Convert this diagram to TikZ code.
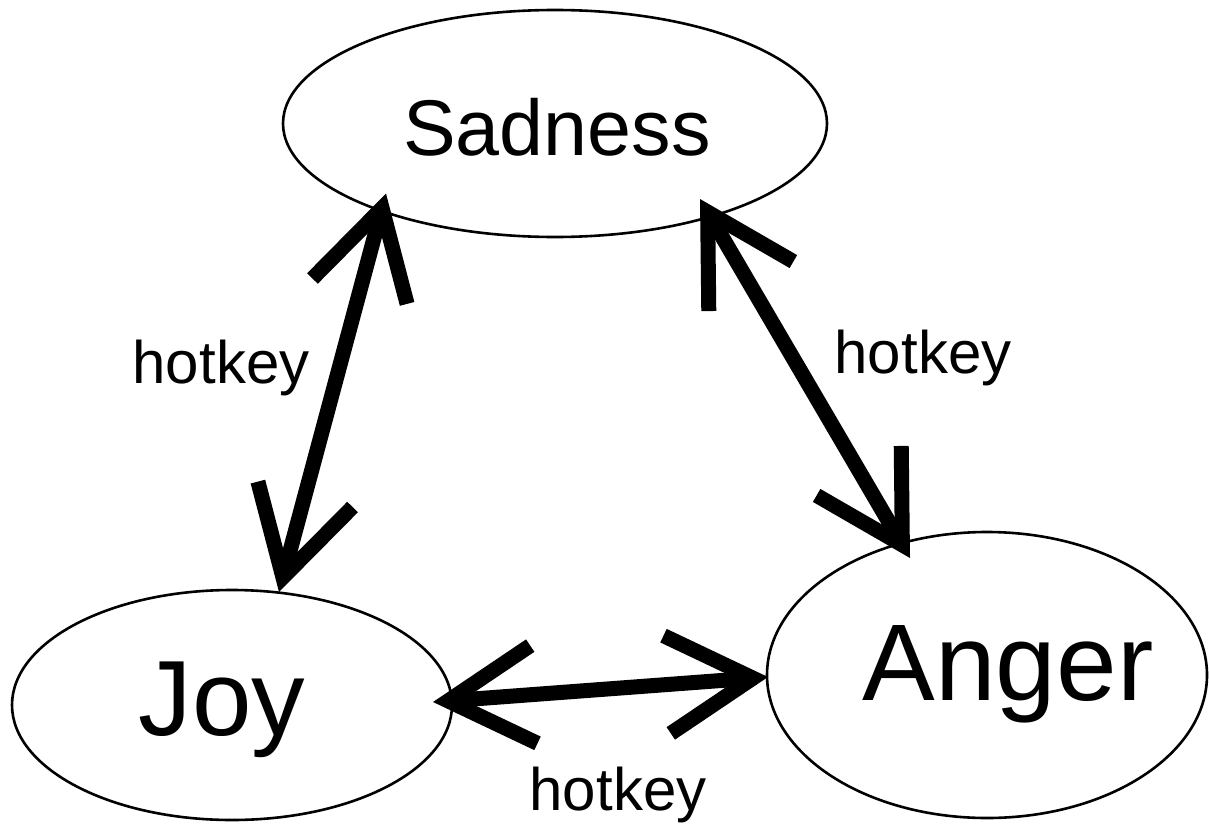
\documentclass[tikz,border=0pt]{standalone}
\usepackage{fontspec}
\setmainfont{Liberation Sans}
\usetikzlibrary{shapes.geometric,arrows.meta,calc}
\begin{document}
\begin{tikzpicture}[x=1pt,y=-1pt,
  emo/.style={ellipse,draw,line width=2.6pt,inner sep=0pt},
  lbl/.style={anchor=base,inner sep=0pt},
  link/.style={line width=15pt,
    arrows={Straight Barb[length=86pt,width=98pt,sharp]-Straight Barb[length=86pt,width=98pt,sharp]}}]
\useasboundingbox (0,0) rectangle (1209,824);
\node[emo,minimum width=544pt,minimum height=227pt] (sad) at (555,123.5) {};
\node[emo,minimum width=440pt,minimum height=230pt] (joy) at (232,705) {};
\node[emo,minimum width=440pt,minimum height=286pt] (ang) at (987,675) {};
\node[lbl] (tsad) at (557,155) {\fontsize{79}{90}\selectfont Sadness};
\node[lbl] (tjoy) at (222,735) {\fontsize{107}{120}\selectfont Joy};
\node[lbl] (tang) at (1008,700) {\fontsize{109}{120}\selectfont Anger};
\node[lbl] (h1) at (221,383) {\fontsize{60}{70}\selectfont hotkey};
\node[lbl] (h2) at (923,373) {\fontsize{60}{70}\selectfont hotkey};
\node[lbl] (h3) at (618,810) {\fontsize{60}{70}\selectfont hotkey};
\draw[link] ($(sad)+(-169,70)$) -- ($(joy)+(47,-113)$);
\draw[link] ($(joy)+(201,-3)$) -- ($(ang)+(-219,2)$);
\draw[link] ($(sad)+(145,75.5)$) -- ($(ang)+(-77,-117)$);
\end{tikzpicture}
\end{document}
